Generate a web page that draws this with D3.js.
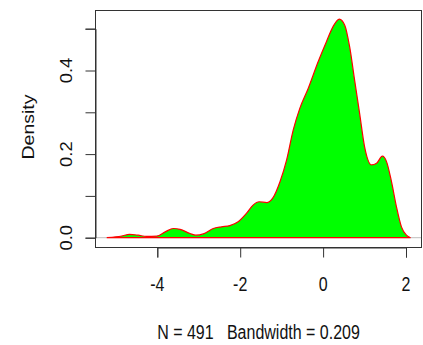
<!DOCTYPE html>
<html><head><meta charset="utf-8">
<script src="https://cdn.jsdelivr.net/npm/d3@7"></script>
<style>body{margin:0;background:#fff}text{font-family:"Liberation Sans",Arial,sans-serif;fill:#111;white-space:pre}</style>
</head><body>
<svg id="c" width="423" height="345"></svg>
<script>
const densityX = [-5.22,-5.0,-4.86,-4.67,-4.46,-4.26,-4.01,-3.81,-3.61,-3.45,-3.21,-3.07,-2.89,-2.65,-2.45,-2.25,-2.05,-1.85,-1.69,-1.54,-1.36,-1.22,-1.04,-0.88,-0.72,-0.56,-0.36,-0.12,0.08,0.24,0.39,0.52,0.64,0.76,0.88,1.0,1.17,1.29,1.43,1.53,1.65,1.77,1.89,2.01,2.11];
const densityY = [0.0,0.002,0.004,0.008,0.006,0.003,0.004,0.014,0.022,0.020,0.010,0.006,0.009,0.022,0.026,0.029,0.038,0.058,0.078,0.086,0.084,0.094,0.134,0.186,0.258,0.31,0.357,0.421,0.469,0.505,0.523,0.509,0.457,0.377,0.298,0.218,0.174,0.178,0.195,0.182,0.134,0.074,0.026,0.006,0.0];
const xTicks = [-4,-2,0,2];
const yTicks = [0,0.1,0.2,0.3,0.4,0.5];
const yTickLabels = ["0.0","","0.2","","0.4",""];
const xTitle = "N = 491   Bandwidth = 0.209";
const yTitle = "Density";

const svg = d3.select("#c");
const x = d3.scaleLinear().domain([-4,2]).range([157.3,406]);
const y = d3.scaleLinear().domain([0,0.5]).range([237.7,28.7]);
const box = {l:95, t:10, r:422, b:247};
const axisCol = "#333";

// zero line
svg.append("line").attr("x1",box.l).attr("x2",box.r).attr("y1",y(0)).attr("y2",y(0))
  .attr("stroke","#bebebe").attr("stroke-width",1);

const pts = densityX.map((d,i)=>[d,densityY[i]]);
const area = d3.area().x(d=>x(d[0])).y0(y(0)).y1(d=>y(d[1])).curve(d3.curveMonotoneX);
svg.append("path").attr("d",area(pts)).attr("fill","#00ff00").attr("stroke","#ff0000").attr("stroke-width",1.2);

// box
svg.append("rect").attr("x",box.l+0.5).attr("y",box.t+0.5).attr("width",box.r-box.l-1).attr("height",box.b-box.t)
  .attr("fill","none").attr("stroke",axisCol).attr("stroke-width",1);

// axes
const xa = svg.append("g").attr("transform",`translate(0,${box.b+0.5})`)
  .call(d3.axisBottom(x).tickValues(xTicks).tickSize(10).tickFormat(""));
const ya = svg.append("g").attr("transform",`translate(${box.l+0.5},0)`)
  .call(d3.axisLeft(y).tickValues(yTicks).tickSize(10).tickFormat(""));
[xa,ya].forEach(g=>{g.selectAll("path,line").attr("stroke",axisCol);});

// tick labels
svg.append("g").selectAll("text").data(xTicks).join("text")
  .attr("transform",d=>`translate(${x(d)},290.7) scale(1,1.3)`)
  .attr("text-anchor","middle").attr("font-size",16).text(d=>d);
svg.append("g").selectAll("text").data(yTicks).join("text")
  .attr("transform",d=>`translate(71.5,${y(d)}) scale(1,1.15) rotate(-90)`)
  .attr("text-anchor","middle").attr("font-size",16).text((d,i)=>yTickLabels[i]);

svg.append("text").attr("transform","translate(258.5,339) scale(1,1.3)")
  .attr("text-anchor","middle").attr("font-size",16).attr("xml:space","preserve").text(xTitle);
svg.append("text").attr("transform","translate(33.5,127) scale(1,1.22) rotate(-90)")
  .attr("text-anchor","middle").attr("font-size",16).text(yTitle);
</script>
</body></html>
